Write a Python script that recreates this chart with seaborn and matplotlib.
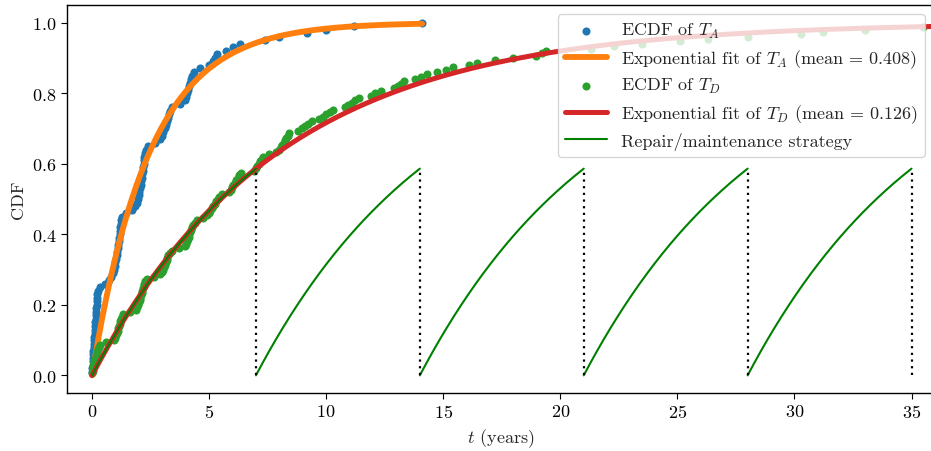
import numpy as np
import pandas as pd
import matplotlib
matplotlib.use("Agg")
import matplotlib.pyplot as plt
import seaborn as sns

# ---- data ----
# sorted sample times (years) of T_A
T_A = [0.00, 0.01, 0.02, 0.03, 0.04, 0.05, 0.06, 0.07, 0.08, 0.09,
       0.10, 0.11, 0.12, 0.13, 0.14, 0.15, 0.16, 0.17, 0.18, 0.19,
       0.20, 0.21, 0.23, 0.26, 0.35, 0.55, 0.72, 0.82, 0.88, 0.93,
       0.97, 1.00, 1.03, 1.06, 1.08, 1.10, 1.12, 1.14, 1.16, 1.18,
       1.20, 1.21, 1.22, 1.24, 1.27, 1.45, 1.70, 1.82, 1.90, 1.95,
       1.99, 2.02, 2.05, 2.08, 2.10, 2.12, 2.14, 2.16, 2.18, 2.20,
       2.22, 2.24, 2.26, 2.29, 2.40, 2.70, 2.90, 3.00, 3.05, 3.10,
       3.15, 3.20, 3.25, 3.30, 3.35, 3.42, 3.75, 3.95, 4.02, 4.06,
       4.10, 4.14, 4.18, 4.22, 4.26, 4.35, 4.60, 5.00, 5.15, 5.25,
       5.35, 5.70, 6.00, 6.30, 7.40, 8.00, 9.20, 10.0, 11.2, 14.1]

# sorted sample times (years) of T_D
T_D = [0.00, 0.02, 0.04, 0.06, 0.08, 0.10, 0.13, 0.16, 0.19, 0.22, 0.26, 0.30, 0.34,
       0.60, 0.95, 1.00, 1.03, 1.06, 1.09, 1.12, 1.15, 1.18, 1.21, 1.24, 1.27, 1.31,
       1.60,
       1.88, 1.92, 1.96, 2.00, 2.03, 2.06, 2.09, 2.12, 2.15, 2.18, 2.21, 2.24, 2.28, 2.34,
       2.65,
       2.92, 2.97, 3.02, 3.06, 3.10, 3.14, 3.18, 3.22, 3.26, 3.32, 3.40,
       3.70,
       3.95, 4.00, 4.04, 4.08, 4.12, 4.16, 4.20, 4.24, 4.28, 4.33, 4.40, 4.50,
       4.75, 4.90, 4.98, 5.05, 5.12, 5.18, 5.24, 5.30, 5.36, 5.42, 5.55,
       5.85, 5.92, 5.98, 6.04, 6.10, 6.16, 6.22, 6.28, 6.36,
       6.90,
       7.00, 7.06, 7.12, 7.18, 7.24, 7.30,
       7.55, 7.85,
       7.98, 8.05, 8.12, 8.18, 8.24, 8.30, 8.36, 8.42,
       8.80, 8.95, 9.08, 9.22, 9.38,
       9.70, 9.85, 10.00, 10.15, 10.30,
       10.80, 10.95, 11.10, 11.25, 11.40,
       11.90, 12.10, 12.35,
       12.90, 13.05, 13.20, 13.32,
       13.80, 14.05, 14.30,
       14.75, 15.10, 15.40, 16.10, 16.45, 17.20, 18.00, 18.95, 19.20, 19.40,
       21.30, 22.30, 23.50, 25.10, 26.30, 28.00, 30.30, 31.20, 33.00, 35.50,
       38.00, 42.00]

rate_A = 0.408          # value shown in the legend
rate_D = 0.126          # value shown in the legend
maintenance_times = [0, 7, 14, 21, 28, 35]   # repair / maintenance instants

labels = {
    "ecdf_A": r"ECDF of $T_A$",
    "fit_A": r"Exponential fit of $T_A$ (mean = 0.408)",
    "ecdf_D": r"ECDF of $T_D$",
    "fit_D": r"Exponential fit of $T_D$ (mean = 0.126)",
    "repair": "Repair/maintenance strategy",
}

# ---- style ----
sns.set_style("ticks")
plt.rcParams.update({
    "font.family": "serif",
    "font.serif": ["cmr10"],
    "mathtext.fontset": "cm",
    "axes.formatter.use_mathtext": True,
    "font.size": 13,
    "axes.labelsize": 13,
    "xtick.labelsize": 13,
    "ytick.labelsize": 13,
    "legend.fontsize": 13,
    "axes.edgecolor": "black",
    "axes.linewidth": 1.0,
    "xtick.color": "black",
    "ytick.color": "black",
    "xtick.major.size": 4,
    "ytick.major.size": 4,
})

W, H = 931, 452
fig = plt.figure(figsize=(W / 100, H / 100), dpi=100)
ax = fig.add_axes([67 / W, (H - 394) / H, (934 - 67) / W, (394 - 6) / H])

# ECDFs
xa = np.sort(np.array(T_A))
ya = np.arange(1, len(xa) + 1) / len(xa)
xd = np.sort(np.array(T_D))
yd = np.arange(1, len(xd) + 1) / len(xd)

# exponential fits
ta = np.linspace(0, xa.max(), 400)
td = np.linspace(0, xd.max(), 800)

sns.scatterplot(x=xa, y=ya, ax=ax, color="#1f77b4", s=34, linewidth=0,
                label=labels["ecdf_A"], zorder=2)
sns.lineplot(x=ta, y=1 - np.exp(-rate_A * ta), ax=ax, color="#ff7f0e",
             linewidth=4.2, label=labels["fit_A"], zorder=2, sort=False)
sns.scatterplot(x=xd, y=yd, ax=ax, color="#2ca02c", s=34, linewidth=0,
                label=labels["ecdf_D"], zorder=2)
sns.lineplot(x=td, y=1 - np.exp(-rate_D * td), ax=ax, color="#d62728",
             linewidth=3.6, label=labels["fit_D"], zorder=2, sort=False)

# repair / maintenance sawtooth
peak = 1 - np.exp(-rate_D * (maintenance_times[1] - maintenance_times[0]))
for k in range(len(maintenance_times) - 1):
    t0, t1 = maintenance_times[k], maintenance_times[k + 1]
    tt = np.linspace(t0, t1, 200)
    sns.lineplot(x=tt, y=1 - np.exp(-rate_D * (tt - t0)), ax=ax, color="green",
                 linewidth=1.5, label=labels["repair"] if k == 0 else None,
                 zorder=3, sort=False)
ax.vlines(maintenance_times[1:], 0, peak, colors="black", linestyles=(0, (1, 2)),
          linewidth=1.6, zorder=3)

ax.set_xlim(-1.07, 35.96)
ax.set_ylim(-0.05, 1.05)
ax.set_xticks([0, 5, 10, 15, 20, 25, 30, 35])
ax.set_yticks([0.0, 0.2, 0.4, 0.6, 0.8, 1.0])
ax.set_xlabel(r"$t$ (years)")
ax.set_ylabel("CDF")

ax.legend(loc="upper right", frameon=True, fancybox=True, framealpha=0.8,
          edgecolor="0.8", borderaxespad=0.5, handlelength=2.3,
          labelspacing=0.37)

fig.savefig("out.png", dpi=100)
